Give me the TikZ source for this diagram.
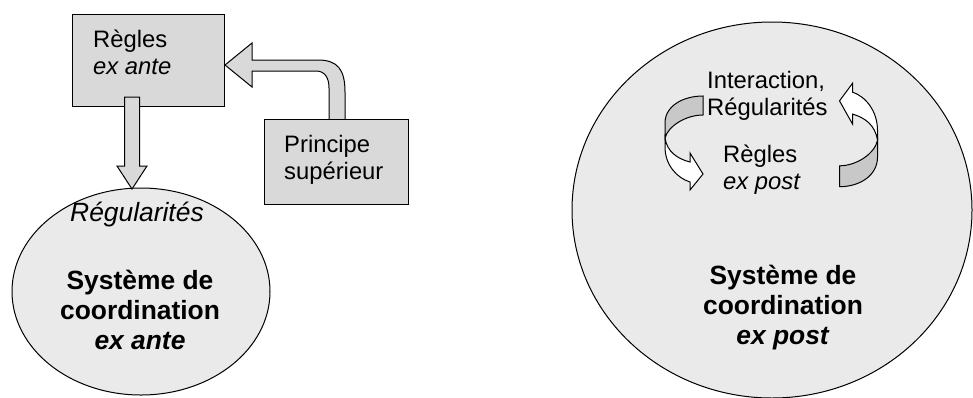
\documentclass[tikz,border=0pt]{standalone}
\usepackage{fontspec}
\setmainfont{Liberation Sans}
\usetikzlibrary{shapes.geometric, positioning}

\begin{document}
\begin{tikzpicture}[x=1pt, y=-1pt,
    boite/.style={draw, line width=1pt, fill=grisBoite, inner sep=0pt},
    cercle/.style={ellipse, draw, line width=1pt, fill=grisFond, inner sep=0pt},
    fleche/.style={draw, line width=1pt, line join=miter, fill=grisBoite},
    texte/.style={inner sep=0pt, align=left, font=\fontsize{23.8}{27}\selectfont},
    gras/.style={inner sep=0pt, align=center, font=\fontsize{26.4}{30}\selectfont\bfseries}]
    % couleurs
    \definecolor{grisBoite}{RGB}{217,217,217} % boites et fleches
    \definecolor{grisFond}{RGB}{234,234,234}  % cercles
    \definecolor{grisRuban}{RGB}{200,200,200} % dos des fleches courbes

    \useasboundingbox (0,0) rectangle (973,397);

    % les deux systemes
    \node[cercle, minimum width=258pt, minimum height=207pt] (sysante) at (141,291.5) {};
    \node[cercle, minimum width=400pt, minimum height=376pt] (syspost) at (772,210) {};

    % fleche courbe : principe -> regles
    \path[fleche] (345,125) -- (345,92) .. controls (345,70) and (338,60) .. (318,60)
        -- (252,60) -- (252,43) -- (225,65) -- (252,87) -- (252,71) -- (316,71)
        .. controls (325,71) and (329,78) .. (329,88) -- (329,125) -- cycle;

    % boites
    \node[boite, minimum width=152pt, minimum height=92pt] (regles) at (148,60) {};
    \node[boite, minimum width=144pt, minimum height=85pt] (principe) at (336,161.5) {};

    % fleche droite : regles -> regularites
    \path[fleche] (124.5,97) -- (139.5,97) -- (139.5,166) -- (147,166) -- (132,189)
        -- (117,166) -- (124.5,166) -- cycle;

    % textes de gauche
    \node[texte, anchor=north west] (tregles) at (93,29.6) {Règles\\\textit{ex ante}};
    \node[texte, anchor=north west] (tprincipe) at (284,135) {Principe\\supérieur};
    \node[inner sep=0pt, anchor=north west, font=\fontsize{26.4}{30}\selectfont\itshape]
        (tregul) at (70,201.7) {Régularités};
    \node[gras, anchor=north] (tsysante) at (140,270.3) {Système de\\coordination\\\textit{ex ante}};

    % textes de droite
    \node[texte, anchor=north west] (tinter) at (707,71) {Interaction,\\Régularités};
    \node[texte, anchor=north west] (treglespost) at (723,144.6) {Règles\\\textit{ex post}};
    \node[gras, anchor=north] (tsyspost) at (783,265.3) {Système de\\coordination\\\textit{ex post}};

    % fleches du cycle (la seconde : la premiere tournee de 180 degres, un peu plus haute)
    \foreach \cx/\cy/\ang/\ech in {684/143/0/1, 858.5/135/180/1.1} {
        \begin{scope}[shift={(\cx,\cy)}, yscale=\ech, rotate=\ang, shift={(-684,-143)}]
            \path[draw, line width=1pt, fill=grisRuban] (703,96) .. controls (683,96) and (665,106) .. (665,123)
                -- (665,138) .. controls (668,126) and (686,115) .. (703,115) -- cycle;
            \path[draw, line width=1pt, line join=miter, fill=white] (665,138) -- (665,147)
                .. controls (665,165) and (677,178) .. (690,182) -- (690,190) -- (703,174)
                -- (690,153) -- (690,162) .. controls (678,159) and (667,152) .. (665,138) -- cycle;
        \end{scope}
    }
\end{tikzpicture}
\end{document}
